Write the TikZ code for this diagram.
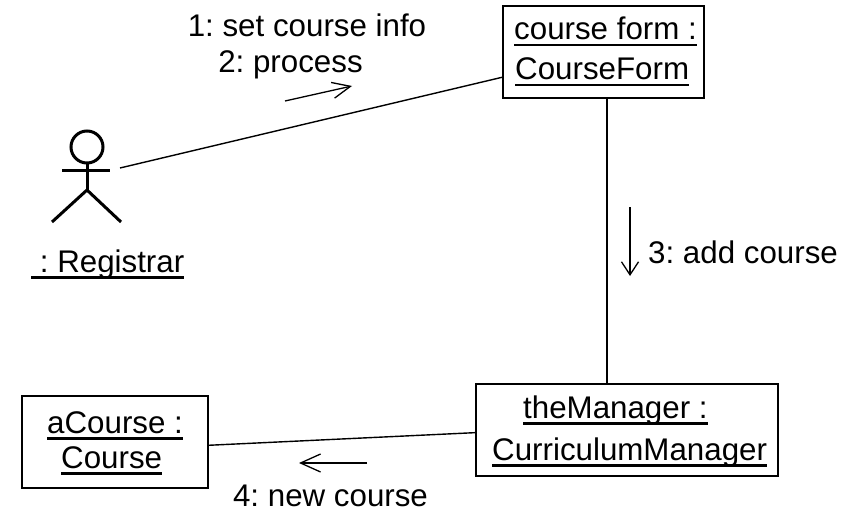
\documentclass[tikz,border=0pt]{standalone}
\usepackage{fontspec}
\setmainfont{Liberation Sans}
\usetikzlibrary{arrows.meta}
\frenchspacing
\newcommand{\myul}[1]{\setbox0=\hbox{#1}\rlap{\rule[-6.5pt]{\wd0}{2.8pt}}\box0}
\begin{document}
\frenchspacing
\begin{tikzpicture}[x=1pt,y=-1pt,
  font=\fontsize{31.3}{37}\selectfont\frenchspacing,
  obj/.style={draw, line width=1.5pt, inner sep=0pt},
  txt/.style={inner sep=0pt, anchor=base west},
  ctxt/.style={inner sep=0pt, anchor=base},
  link/.style={line width=1.4pt},
  actorline/.style={line width=3pt},
  msg/.style={line width=1.3pt, -{Straight Barb[length=18pt,width=16pt,line width=1.3pt]}}]
\useasboundingbox (0,0) rectangle (866,513);
% object boxes
\node[obj, minimum width=201pt, minimum height=92pt] (cf) at (603.5,52) {};
\node[obj, minimum width=302pt, minimum height=92pt] (mgr) at (627,430) {};
\node[obj, minimum width=186pt, minimum height=92pt] (ac) at (115,442) {};
% box texts
\node[txt] (cf1) at (514,40) {\myul{course form :}};
\node[txt] (cf2) at (515,80) {\myul{CourseForm}};
\node[txt] (mg1) at (523,418) {\myul{theManager :}};
\node[txt] (mg2) at (492,460) {\myul{CurriculumManager}};
\node[txt] (ac1) at (47,433) {\myul{aCourse :}};
\node[txt] (ac2) at (61,468) {\myul{Course}};
% actor
\draw[actorline] (87,147) circle (16pt);
\draw[actorline] (62,170) -- (110,170);
\draw[actorline] (87,163) -- (87,190);
\draw[actorline] (52,222) -- (87,190) -- (121,222);
\coordinate (actor) at (120,168);
\node[txt] (reg) at (31,272) {\myul{\ : Registrar}};
% links
\coordinate (vx) at (607,0);
\draw[link] (actor) -- (cf.194);
\draw[link] (cf.south -| vx) -- (mgr.north -| vx);
\draw[link] (ac.-2) -- (mgr.181);
% messages
\coordinate (m1s) at (285,101);
\coordinate (m1e) at (352,86);
\draw[msg] (m1s) -- (m1e);
\node[ctxt] (l1) at (307,37) {1: set course info};
\node[ctxt] (l2) at (290.5,73) {2: process};
\coordinate (m3s) at (630,207);
\coordinate (m3e) at (630,276);
\draw[msg, -{Straight Barb[length=13pt,width=17pt,line width=1.3pt]}] (m3s) -- (m3e);
\node[txt] (l3) at (648,263) {3: add course};
\coordinate (m4s) at (367,463);
\coordinate (m4e) at (299,463);
\draw[msg, -{Straight Barb[length=20pt,width=18pt,line width=1.3pt]}] (m4s) -- (m4e);
\node[ctxt] (l4) at (330.5,506) {4: new course};
\end{tikzpicture}
\end{document}
